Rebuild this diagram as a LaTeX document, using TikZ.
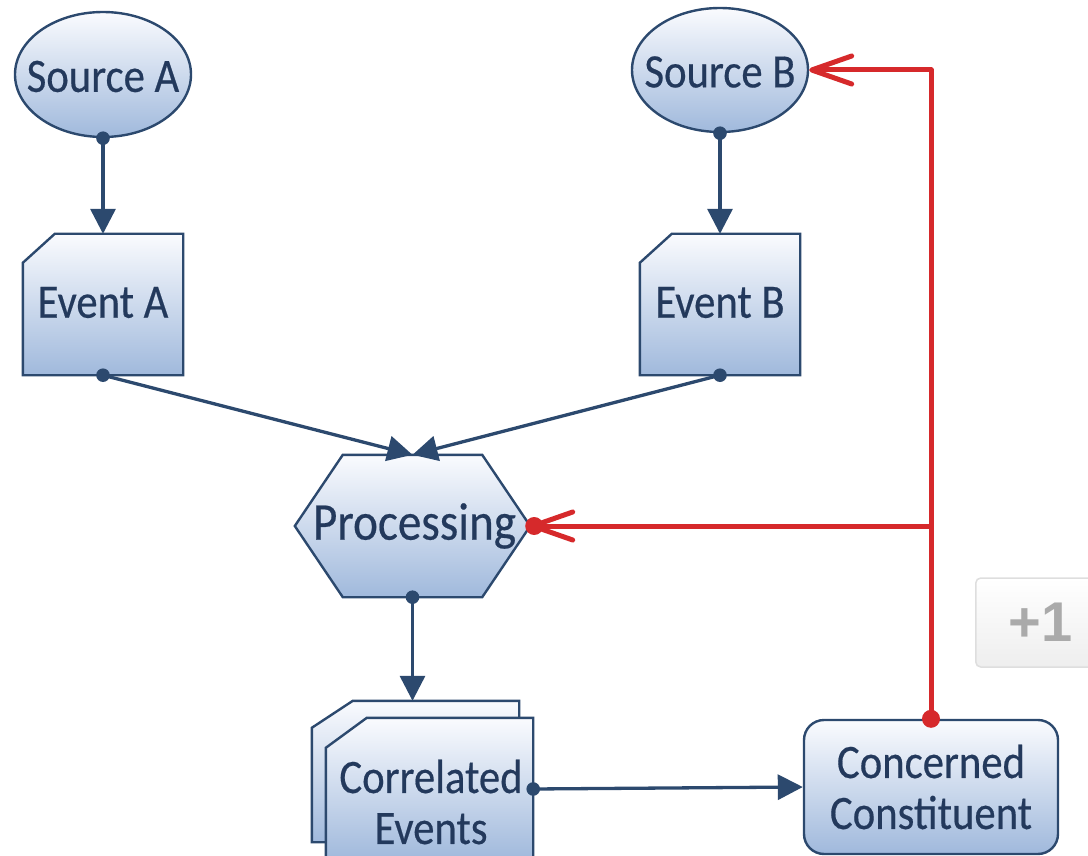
\documentclass[tikz,border=0pt]{standalone}
\usepackage{fontspec}
\setmainfont{Carlito}[FakeStretch=0.89,FakeBold=0.4]
\newfontfamily\btnfont{Liberation Sans}
\usetikzlibrary{arrows.meta,shapes.geometric}

\definecolor{navy}{RGB}{44,73,110}
\definecolor{inktext}{RGB}{35,57,92}
\definecolor{shadetop}{RGB}{250,251,254}
\definecolor{shadebot}{RGB}{160,185,220}
\definecolor{alertred}{RGB}{214,41,43}
\definecolor{btnedge}{RGB}{222,222,222}
\definecolor{btnbot}{RGB}{238,238,238}
\definecolor{btntext}{RGB}{170,170,170}

\begin{document}
\begin{tikzpicture}[x=1pt,y=-1pt,
  shapefill/.style={draw=navy, line width=2.4pt, top color=shadetop, bottom color=shadebot},
  nodetext/.style={text=inktext, font=\fontsize{48}{51}\selectfont, align=center, inner sep=0pt},
  bigtext/.style={nodetext, font=\fontsize{53}{56}\selectfont},
  holder/.style={rectangle, inner sep=0pt, draw=none},
  flow/.style={draw=navy, line width=3.3pt, -{Triangle[width=25pt,length=25pt]}},
  redline/.style={draw=alertred, line width=5pt, line cap=round, line join=round},
  redtip/.style={-{Straight Barb[length=40pt,width=28pt,line cap=round,line join=round]}},
  navydot/.style={fill=navy},
  reddot/.style={fill=alertred}
]
\useasboundingbox (0,0) rectangle (1088,856);
\clip (0,0) rectangle (1088,856);

% sources
\node[ellipse, shapefill, inner sep=0pt, minimum width=176pt, minimum height=125pt] (srcA) at (103,74.5) {};
\node[nodetext] (srcAtext) at ([yshift=-2pt]srcA.center) {Source A};
\node[ellipse, shapefill, inner sep=0pt, minimum width=176pt, minimum height=124pt] (srcB) at (720,70) {};
\node[nodetext] (srcBtext) at ([yshift=-2pt]srcB.center) {Source B};

% events with a clipped corner
\node[holder, minimum width=160pt, minimum height=141pt] (evA) at (103,304.5) {};
\path[shapefill] ([yshift=-29pt]evA.north west) -- ([xshift=32pt]evA.north west) -- (evA.north east)
  -- (evA.south east) -- (evA.south west) -- cycle;
\node[nodetext] (evAtext) at ([yshift=2pt]evA.center) {Event A};

\node[holder, minimum width=160pt, minimum height=141pt] (evB) at (720,304.5) {};
\path[shapefill] ([yshift=-29pt]evB.north west) -- ([xshift=32pt]evB.north west) -- (evB.north east)
  -- (evB.south east) -- (evB.south west) -- cycle;
\node[nodetext] (evBtext) at ([yshift=2pt]evB.center) {Event B};

% processing hexagon
\node[holder, minimum width=235pt, minimum height=142pt] (proc) at (412.5,526) {};
\path[shapefill] (proc.west) -- ([xshift=48pt]proc.north west) -- ([xshift=-48pt]proc.north east)
  -- (proc.east) -- ([xshift=-48pt]proc.south east) -- ([xshift=48pt]proc.south west) -- cycle;
\node[bigtext] (proctext) at ([xshift=2pt]proc.center) {Processing};

% stacked correlated events
\node[holder, minimum width=207pt, minimum height=141pt] (corrBack) at (415.5,771.5) {};
\path[shapefill] ([yshift=-27pt]corrBack.north west) -- ([xshift=41pt]corrBack.north west) -- (corrBack.north east)
  -- (corrBack.south east) -- (corrBack.south west) -- cycle;
\node[holder, minimum width=207pt, minimum height=142pt] (corr) at (429.5,789) {};
\path[shapefill] ([yshift=-30pt]corr.north west) -- ([xshift=41pt]corr.north west) -- (corr.north east)
  -- (corr.south east) -- (corr.south west) -- cycle;
\node[nodetext] (corrtext) at (431,802) {Correlated\\Events};

% concerned constituent
\node[rectangle, rounded corners=20pt, shapefill, minimum width=254pt, minimum height=134pt, nodetext] (cc) at (931,787) {Concerned\\Constituent};

% +1 button
\node[draw=btnedge, line width=1.5pt, rounded corners=5pt, top color=white, bottom color=btnbot,
  minimum width=130pt, minimum height=89pt, anchor=west, text=btntext,
  font=\btnfont\bfseries\fontsize{56}{60}\selectfont] (plusone) at (975,622.5) {+1};

% flow connectors
\draw[flow] (srcA.south) -- (evA.north);
\draw[flow] (srcB.south) -- (evB.north);
\draw[flow] (evA.south) -- (proc.north);
\draw[flow] (evB.south) -- (proc.north);
\draw[flow] (proc.south) -- (corrBack.north -| proc.south);
\draw[flow] (corr.east) -- (cc.west);

\fill[navydot] (srcA.south) circle (6.8);
\fill[navydot] (srcB.south) circle (6.8);
\fill[navydot] (evA.south) circle (6.8);
\fill[navydot] (evB.south) circle (6.8);
\fill[navydot] (proc.south) circle (6.8);
\fill[navydot] (corr.east) circle (6.8);

% feedback connectors
\draw[redline, redtip] (cc.north) -- (cc.north |- srcB.east) -- (srcB.east);
\draw[redline, redtip] (cc.north |- proc.east) -- (proc.east);
\fill[reddot] (cc.north) circle (9);
\fill[reddot] ([xshift=4pt]proc.east) circle (9);
\end{tikzpicture}
\end{document}
